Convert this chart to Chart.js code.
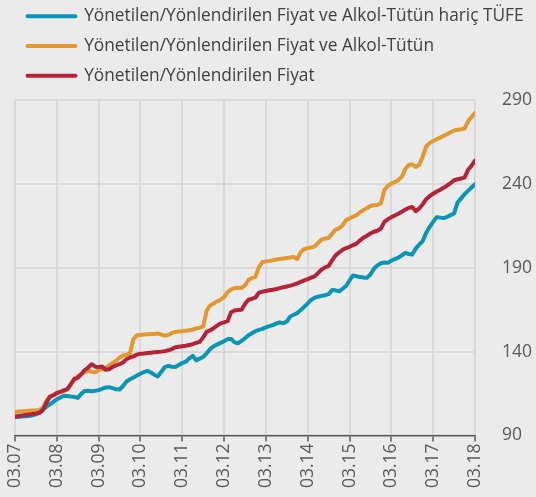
<!DOCTYPE html>
<html>
<head>
<meta charset="utf-8">
<script src="https://cdn.jsdelivr.net/npm/chart.js@4.4.1/dist/chart.umd.min.js"></script>
<style>
  html, body { margin: 0; padding: 0; background: #ebebeb; }
  #wrap { width: 536px; height: 497px; }
</style>
</head>
<body>
<div id="wrap"><canvas id="chart" width="536" height="497"></canvas></div>
<script>
// monthly index, 03.07 .. 03.18 (133 months)
const yearTicks = ['03.07', '03.08', '03.09', '03.10', '03.11', '03.12', '03.13', '03.14', '03.15', '03.16', '03.17', '03.18'];

const seriesNames = [
    'Yönetilen/Yönlendirilen Fiyat ve Alkol-Tütün hariç TÜFE',
    'Yönetilen/Yönlendirilen Fiyat ve Alkol-Tütün',
    'Yönetilen/Yönlendirilen Fiyat'
];

const haricTufe = [
    100.9, 101.0, 101.2, 101.4, 101.6, 101.9, 102.5, 103.5, 105.5, 107.0, 108.5, 110.0,
    111.5, 112.6, 113.6, 113.5, 113.2, 113.0, 112.4, 114.8, 116.5, 116.6, 116.4, 116.6,
    117.0, 117.8, 118.6, 118.8, 118.2, 117.5, 117.4, 119.5, 122.2, 123.5, 124.6, 125.7,
    126.8, 127.8, 128.5, 127.5, 126.2, 125.2, 128.0, 130.8, 131.5, 131.0, 130.8, 132.0,
    133.2, 134.0, 136.0, 137.5, 134.8, 135.8, 136.8, 139.0, 141.5, 143.2, 144.2, 145.2,
    146.2, 147.5, 147.6, 145.5, 145.0, 146.4, 148.0, 149.8, 151.0, 152.2, 153.0, 153.6,
    154.5, 155.2, 155.8, 156.8, 157.4, 157.0, 158.0, 161.0, 162.0, 163.0, 164.8, 166.8,
    168.8, 171.0, 172.2, 172.8, 173.3, 173.7, 174.3, 176.8, 176.6, 176.0, 177.5, 179.2,
    182.5, 185.5, 185.0, 184.5, 184.2, 184.1, 186.0, 189.5, 191.5, 192.8, 193.2, 193.0,
    194.2, 195.3, 196.1, 197.5, 199.0, 198.3, 198.0, 201.5, 204.0, 206.0, 211.0, 214.5,
    217.5, 220.3, 220.0, 219.7, 220.5, 221.5, 222.5, 229.0, 231.5, 234.0, 236.0, 238.0,
    240.0
];

const alkolTutun = [
    104.0, 104.2, 104.4, 104.6, 104.7, 104.9, 105.0, 105.2, 106.5, 110.5, 113.2, 114.0,
    115.2, 115.8, 116.4, 117.4, 120.5, 123.8, 125.2, 126.8, 127.6, 128.6, 128.0, 127.6,
    129.0, 129.4, 130.0, 131.8, 133.1, 134.6, 136.4, 137.7, 138.2, 139.0, 147.5, 149.8,
    150.0, 150.2, 150.4, 150.5, 150.6, 150.8, 150.2, 149.5, 150.0, 151.0, 151.8, 152.0,
    152.2, 152.5, 152.8, 153.2, 153.8, 154.3, 155.0, 164.5, 167.5, 168.8, 170.0, 171.0,
    172.5, 175.5, 177.0, 178.0, 178.2, 178.0, 179.5, 182.8, 184.0, 184.7, 190.5, 193.5,
    193.9, 194.2, 194.6, 195.0, 195.3, 195.6, 195.9, 196.2, 196.5, 195.3, 199.5, 201.2,
    201.8, 202.2, 202.8, 205.0, 207.0, 207.5, 207.8, 210.5, 212.8, 213.6, 215.5, 218.5,
    219.5, 220.5, 221.5, 223.2, 224.5, 225.8, 227.0, 227.4, 227.6, 228.5, 236.5, 239.0,
    240.3, 241.2, 242.5, 244.5, 249.0, 251.5, 251.9, 250.2, 251.5, 256.5, 262.5, 264.5,
    265.8, 266.8, 267.8, 268.8, 269.8, 271.0, 272.0, 272.5, 272.8, 273.2, 277.5, 280.0,
    282.5
];

const yonetilen = [
    101.3, 101.6, 101.9, 102.2, 102.5, 102.8, 103.1, 103.5, 105.0, 109.5, 113.0, 114.0,
    115.3, 116.0, 116.8, 117.6, 120.5, 123.6, 124.4, 126.5, 129.0, 130.5, 132.5, 131.0,
    130.8, 131.1, 129.2, 129.5, 130.8, 131.8, 132.5, 133.5, 135.5, 136.5, 137.2, 138.2,
    138.7, 138.9, 139.2, 139.4, 139.6, 139.8, 140.0, 140.3, 140.8, 141.5, 142.6, 142.9,
    143.2, 143.5, 144.0, 144.5, 145.2, 145.8, 148.5, 151.8, 152.8, 154.0, 155.5, 156.9,
    157.5, 158.2, 163.5, 164.6, 164.9, 165.0, 168.5, 171.0, 171.6, 172.3, 175.2, 175.8,
    176.2, 176.6, 177.0, 177.4, 177.9, 178.4, 178.9, 179.4, 180.0, 180.8, 181.6, 182.5,
    183.3, 184.2, 185.0, 187.0, 189.0, 190.3, 191.2, 194.5, 197.5, 199.2, 200.8, 201.8,
    202.6, 203.6, 204.5, 206.5, 208.0, 209.2, 210.5, 211.6, 212.2, 213.5, 217.5, 219.0,
    220.3, 221.3, 222.3, 223.5, 224.8, 225.8, 226.4, 223.9, 225.5, 228.0, 231.0, 232.8,
    234.3, 235.6, 236.6, 237.8, 239.2, 240.6, 242.3, 242.9, 243.4, 243.9, 248.5, 251.0,
    254.0
];

const seriesColors = ['#0a95b7', '#e3982f', '#b3243a'];

const toPoints = arr => arr.map((v, i) => ({x: i, y: v}));

const data = {
    datasets: [haricTufe, alkolTutun, yonetilen].map((arr, i) => ({
        label: seriesNames[i],
        data: toPoints(arr),
        borderColor: seriesColors[i],
        backgroundColor: seriesColors[i],
        borderWidth: 4,
        borderJoinStyle: 'round',
        borderCapStyle: 'round',
        pointRadius: 0,
        tension: 0,
        fill: false,
        order: [1, 2, 0][i]
    }))
};

const tickFont = {family: '"Open Sans"', size: 17.5};

// extra gap under the legend
const legendGap = {
    id: 'legendGap',
    beforeInit(chart) {
        const fit = chart.legend.fit;
        chart.legend.fit = function () {
            fit.bind(chart.legend)();
            this.height += 6;
        };
    }
};

const config = {
    type: 'line',
    data,
    options: {
        responsive: false,
        animation: false,
        layout: {padding: {top: -5, left: 15, right: -23, bottom: 7}},
        scales: {
            x: {
                type: 'linear',
                min: 0,
                max: 132,
                ticks: {
                    stepSize: 12,
                    minRotation: 90,
                    maxRotation: 90,
                    color: '#595959',
                    font: tickFont,
                    padding: 2,
                    callback: v => yearTicks[v / 12]
                },
                grid: {color: '#d9d9d9', lineWidth: 2, tickLength: 6, tickColor: '#595959', tickWidth: 1.5},
                border: {display: true, color: '#595959', width: 1.5}
            },
            y: {
                position: 'right',
                min: 90,
                max: 290,
                ticks: {stepSize: 50, color: '#595959', font: tickFont, padding: 27},
                grid: {color: '#d9d9d9', lineWidth: 2, drawTicks: false},
                border: {display: false}
            }
        },
        plugins: {
            legend: {
                position: 'top',
                align: 'start',
                labels: {
                    boxWidth: 48,
                    boxHeight: 0,
                    padding: 12.5,
                    color: '#404040',
                    font: {family: '"Open Sans"', size: 17.3},
                    sort: (a, b) => a.datasetIndex - b.datasetIndex
                }
            },
            tooltip: {enabled: false}
        }
    },
    plugins: [legendGap]
};

const myChart = new Chart(document.getElementById('chart'), config);
</script>
</body>
</html>
